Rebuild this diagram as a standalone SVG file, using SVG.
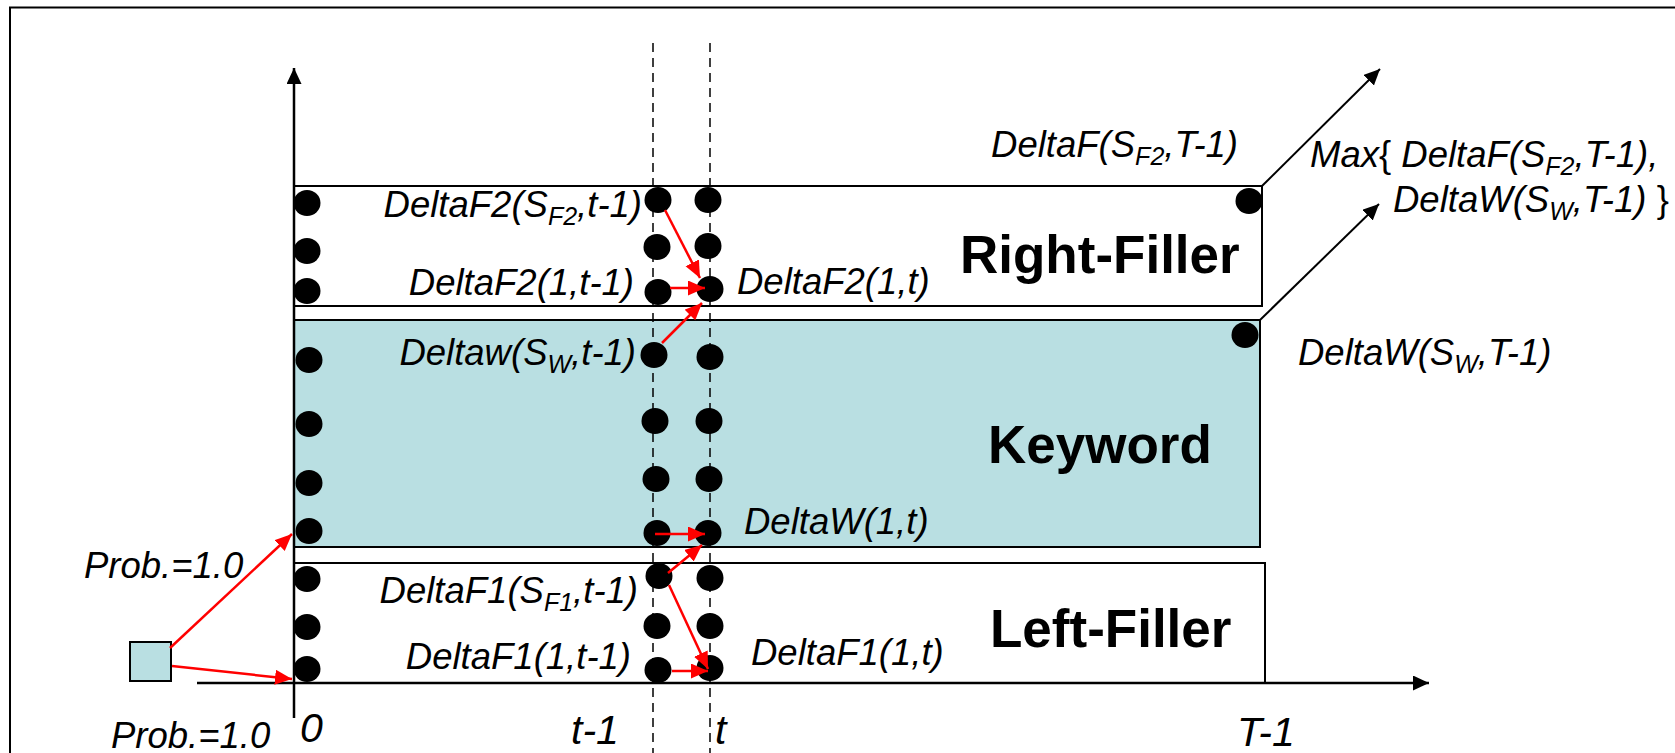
<svg xmlns="http://www.w3.org/2000/svg" width="1675" height="753" viewBox="0 0 1675 753">
<defs>
<style>
.box{stroke:#000;stroke-width:2}
.dot{fill:#000}
.lbl{font-family:"Liberation Sans",Arial,sans-serif;font-style:italic;font-size:36.5px;fill:#000}
.axl{font-size:41px}
.big{font-family:"Liberation Sans",Arial,sans-serif;font-weight:bold;font-size:53px;fill:#000}
.dash{stroke:#000;stroke-width:1.5;stroke-dasharray:9 6;fill:none}
.ax{stroke:#000;stroke-width:2.5;fill:none}
.blk{stroke:#000;stroke-width:2;fill:none}
.red{stroke:#f00;stroke-width:2.5;fill:none}
</style>
<marker id="ah" markerUnits="userSpaceOnUse" markerWidth="17" markerHeight="16" refX="16" refY="7.5" orient="auto" viewBox="0 0 17 16">
<path d="M0,0 L16,7.5 L0,15 z" fill="#000"/>
</marker>
<marker id="rh" markerUnits="userSpaceOnUse" markerWidth="18" markerHeight="16" refX="17" refY="7.5" orient="auto" viewBox="0 0 18 16">
<path d="M0,0 L17,7.5 L0,15 z" fill="#f00"/>
</marker>
</defs>
<path d="M10,753 V7.5 H1675" fill="none" stroke="#000" stroke-width="2"/>

<g id="right-filler">
<rect class="box" x="294" y="186" width="968" height="120" fill="#fff"/>
<text class="big" x="960" y="273">Right-Filler</text>
</g>
<g id="keyword">
<rect class="box" x="294" y="320" width="966" height="227" fill="#B9DFE2"/>
<text class="big" x="988" y="463">Keyword</text>
</g>
<g id="left-filler">
<rect class="box" x="294" y="563" width="971" height="120" fill="#fff"/>
<text class="big" x="990" y="647">Left-Filler</text>
</g>
<g id="start">
<rect x="130" y="642" width="41" height="39" fill="#B9DFE2" stroke="#000" stroke-width="2"/>
</g>

<g id="connectors">
<line class="dash" x1="653" y1="43" x2="653" y2="753"/>
<line class="dash" x1="710" y1="43" x2="710" y2="753"/>
<line class="ax" x1="294" y1="718" x2="294" y2="68" marker-end="url(#ah)"/>
<line class="ax" x1="197" y1="683" x2="1429" y2="683" marker-end="url(#ah)"/>
<line class="blk" x1="1262" y1="186" x2="1380" y2="69" marker-end="url(#ah)"/>
<line class="blk" x1="1260" y1="320" x2="1379" y2="204" marker-end="url(#ah)"/>
<line class="red" x1="170" y1="648" x2="292" y2="534" marker-end="url(#rh)"/>
<line class="red" x1="172" y1="666" x2="292" y2="679" marker-end="url(#rh)"/>
</g>

<g id="dots">
<ellipse class="dot" cx="307" cy="203" rx="13.5" ry="13"/>
<ellipse class="dot" cx="307" cy="251" rx="13.5" ry="13"/>
<ellipse class="dot" cx="307" cy="291" rx="13.5" ry="13"/>
<ellipse class="dot" cx="309" cy="360" rx="13.5" ry="13"/>
<ellipse class="dot" cx="309" cy="424" rx="13.5" ry="13"/>
<ellipse class="dot" cx="309" cy="483" rx="13.5" ry="13"/>
<ellipse class="dot" cx="309" cy="531" rx="13.5" ry="13"/>
<ellipse class="dot" cx="307" cy="579" rx="13.5" ry="13"/>
<ellipse class="dot" cx="307" cy="627" rx="13.5" ry="13"/>
<ellipse class="dot" cx="307" cy="669" rx="13.5" ry="13"/>

<ellipse class="dot" cx="658" cy="200" rx="13.5" ry="13"/>
<ellipse class="dot" cx="657" cy="247" rx="13.5" ry="13"/>
<ellipse class="dot" cx="658" cy="292" rx="13.5" ry="13"/>
<ellipse class="dot" cx="654" cy="355" rx="13.5" ry="13"/>
<ellipse class="dot" cx="655" cy="421" rx="13.5" ry="13"/>
<ellipse class="dot" cx="656" cy="479" rx="13.5" ry="13"/>
<ellipse class="dot" cx="657" cy="533" rx="13.5" ry="13"/>
<ellipse class="dot" cx="659" cy="576" rx="13.5" ry="13"/>
<ellipse class="dot" cx="657" cy="626" rx="13.5" ry="13"/>
<ellipse class="dot" cx="658" cy="670" rx="13.5" ry="13"/>

<ellipse class="dot" cx="708" cy="200" rx="13.5" ry="13"/>
<ellipse class="dot" cx="708" cy="246" rx="13.5" ry="13"/>
<ellipse class="dot" cx="710" cy="289" rx="13.5" ry="13"/>
<ellipse class="dot" cx="710" cy="357" rx="13.5" ry="13"/>
<ellipse class="dot" cx="709" cy="421" rx="13.5" ry="13"/>
<ellipse class="dot" cx="709" cy="479" rx="13.5" ry="13"/>
<ellipse class="dot" cx="708" cy="533" rx="13.5" ry="13"/>
<ellipse class="dot" cx="710" cy="578" rx="13.5" ry="13"/>
<ellipse class="dot" cx="710" cy="626" rx="13.5" ry="13"/>
<ellipse class="dot" cx="710" cy="668" rx="13.5" ry="13"/>

<ellipse class="dot" cx="1249" cy="201" rx="13.5" ry="13"/>
<ellipse class="dot" cx="1245" cy="335" rx="13.5" ry="13"/>
</g>

<g id="transitions">
<line class="red" x1="665" y1="210" x2="700" y2="278" marker-end="url(#rh)"/>
<line class="red" x1="670" y1="288" x2="705" y2="288" marker-end="url(#rh)"/>
<line class="red" x1="662" y1="343" x2="702" y2="303" marker-end="url(#rh)"/>
<line class="red" x1="655" y1="534" x2="705" y2="534" marker-end="url(#rh)"/>
<line class="red" x1="668" y1="573" x2="702" y2="545" marker-end="url(#rh)"/>
<line class="red" x1="669" y1="585" x2="708" y2="669" marker-end="url(#rh)"/>
<line class="red" x1="672" y1="671" x2="708" y2="671" marker-end="url(#rh)"/>
</g>

<g id="labels">
<text class="lbl" x="642" y="217" text-anchor="end">DeltaF2(S<tspan dy="8" font-size="25">F2</tspan><tspan dy="-8">,t-1)</tspan></text>
<text class="lbl" x="634" y="295" text-anchor="end">DeltaF2(1,t-1)</text>
<text class="lbl" x="636" y="365" text-anchor="end">Deltaw(S<tspan dy="8" font-size="25">W</tspan><tspan dy="-8">,t-1)</tspan></text>
<text class="lbl" x="638" y="603" text-anchor="end">DeltaF1(S<tspan dy="8" font-size="25">F1</tspan><tspan dy="-8">,t-1)</tspan></text>
<text class="lbl" x="631" y="669" text-anchor="end">DeltaF1(1,t-1)</text>
<text class="lbl" x="737" y="294">DeltaF2(1,t)</text>
<text class="lbl" x="744" y="534">DeltaW(1,t)</text>
<text class="lbl" x="751" y="665">DeltaF1(1,t)</text>
<text class="lbl" x="1238" y="157" text-anchor="end">DeltaF(S<tspan dy="8" font-size="25">F2</tspan><tspan dy="-8">,T-1)</tspan></text>
<text class="lbl" x="1310" y="167">Max<tspan font-style="normal">{</tspan> DeltaF(S<tspan dy="8" font-size="25">F2</tspan><tspan dy="-8">,T-1),</tspan></text>
<text class="lbl" x="1393" y="212">DeltaW(S<tspan dy="8" font-size="25">W</tspan><tspan dy="-8">,T-1) </tspan><tspan font-style="normal">}</tspan></text>
<text class="lbl" x="1298" y="365">DeltaW(S<tspan dy="8" font-size="25">W</tspan><tspan dy="-8">,T-1)</tspan></text>
<text class="lbl" x="84" y="578">Prob.=1.0</text>
<text class="lbl" x="111" y="748">Prob.=1.0</text>
<text class="lbl axl" x="300" y="742">0</text>
<text class="lbl axl" x="571" y="744">t-1</text>
<text class="lbl axl" x="715" y="744">t</text>
<text class="lbl axl" x="1237" y="746">T-1</text>
</g>
</svg>
